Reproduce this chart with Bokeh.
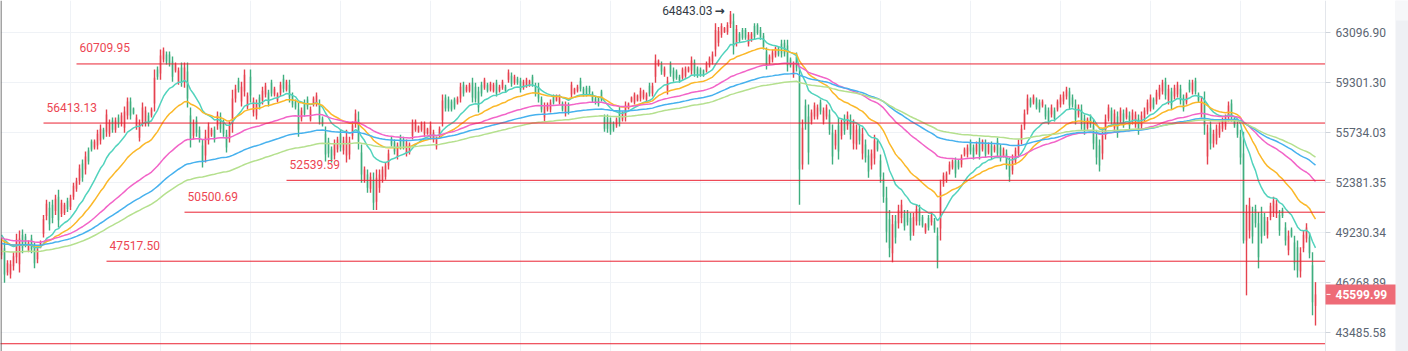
from bokeh.plotting import figure
from bokeh.models import Range1d, FixedTicker, PrintfTickFormatter, Span, ColumnDataSource, LogAxis, Grid
from bokeh.embed import file_html
from bokeh.resources import INLINE
from bokeh.core.properties import value

# ---------------- data ----------------
opens = [
47868, 48282, 46861, 46743, 47217, 47750, 47335, 49111, 48993, 48164,
48874, 48342, 47631, 48401, 49171, 50259, 50773, 50966, 50580, 51481,
50388, 50452, 51224, 50838, 51481, 51995, 52514, 53654, 53251, 54526,
55130, 54727, 54862, 55197, 55950, 55808, 55667, 56592, 55950, 56806,
56377, 56092, 56948, 57947, 57447, 56164, 55398, 56520, 56449, 56948,
56948, 57804, 60289, 59985, 61048, 61427, 61427, 60896, 60213, 59378,
60440, 59301, 60137, 56948, 55533, 56592, 55950, 54862, 54191, 55197,
55600, 55950, 56235, 56877, 56449, 55600, 55332, 56377, 58160, 59454,
57947, 58660, 57590, 59758, 57162, 56948, 58232, 58018, 58445, 58588,
59301, 58445, 58018, 58517, 59606, 58802, 59158, 58374, 57947, 57376,
56734, 57875, 58089, 56663, 57732, 57804, 57732, 56734, 55667, 55130,
54593, 54191, 54593, 55667, 54526, 54191, 54258, 55533, 56377, 56663,
54392, 52580, 52916, 51995, 52580, 51159, 52059, 52580, 52781, 53520,
55332, 55063, 54124, 55398, 55264, 54325, 54392, 55533, 55950, 55808,
55950, 55667, 55667, 55533, 55264, 54794, 55533, 56592, 58232, 58089,
57947, 58089, 57875, 58160, 59158, 58730, 58730, 59301, 59016, 58660,
59158, 58944, 59158, 58802, 58730, 59301, 58730, 58944, 59016, 59530,
59834, 59301, 59606, 59454, 58944, 59087, 59087, 59758, 59087, 59016,
58089, 56806, 57376, 57376, 58303, 58018, 57875, 57804, 57090, 57732,
58445, 58517, 58730, 59454, 58873, 58944, 58944, 58517, 58160, 58160,
58660, 56806, 56734, 56592, 56377, 56235, 57304, 56663, 56806, 57447,
57947, 57875, 58018, 58160, 58232, 58089, 59087, 58517, 59758, 60592,
60668, 59909, 58730, 60668, 60213, 60137, 59758, 59682, 59834, 60137,
60213, 60820, 60365, 60289, 60213, 60213, 60592, 60896, 61807, 62338,
62945, 63174, 63174, 63790, 64021, 62338, 63021, 63328, 63328, 62262,
62566, 63636, 63713, 63328, 62869, 61655, 60820, 61048, 61352, 61883,
62262, 62338, 62110, 61048, 59909, 61276, 59909, 53587, 57661, 56877,
56520, 56877, 56877, 57875, 56520, 56877, 57019, 55734, 54862, 56235,
55533, 56734, 56235, 56663, 54996, 54929, 56021, 54325, 54929, 54191,
53520, 53989, 55130, 53855, 52647, 51416, 50066, 47986, 49938, 49809,
50130, 50388, 50452, 50130, 49295, 49938, 50709, 50195, 49295, 50130,
49874, 49938, 49052, 49488, 52317, 52514, 53117, 53386, 53855, 53788,
53587, 54258, 54258, 55063, 54727, 54459, 55130, 54593, 55063, 54392,
54862, 54526, 55130, 54727, 54191, 54325, 53721, 53184, 53788, 54325,
55197, 56235, 57304, 58089, 57875, 58089, 57875, 57661, 57518, 57304,
57019, 57304, 57376, 57732, 57947, 58303, 58660, 58232, 57732, 57019,
57376, 56734, 56092, 56806, 56235, 55466, 54862, 54325, 55600, 56734,
57304, 56092, 56877, 56520, 57090, 56806, 56948, 56520, 56306, 56734,
56235, 56734, 57233, 57447, 58089, 57947, 58303, 58660, 59378, 58018,
58660, 58303, 58445, 58873, 58232, 57875, 59301, 58660, 59454, 58445,
57090, 58018, 54124, 56092, 54996, 55197, 55600, 56021, 56164, 56806,
57804, 56734, 56306, 55466, 54325, 48760, 49359, 50388, 50709, 49809,
50388, 50195, 49111, 50195, 50452, 50388, 50323, 50645, 49552, 48164,
49423, 48638, 48342, 46921, 48282, 48874, 48933, 47276, 44950]

highs = [
48874, 48756, 47572, 47572, 48046, 49171, 49359, 49423, 49171, 48756,
49111, 48638, 48460, 48756, 50323, 51288, 51159, 51288, 51609, 51931,
51288, 51095, 51416, 51609, 52381, 52714, 53587, 53922, 54459, 54727,
55264, 55264, 55950, 56306, 56092, 57376, 56663, 56806, 56806, 57019,
57162, 57590, 58232, 58232, 57518, 57019, 56663, 57875, 57590, 57162,
57518, 60289, 60516, 61807, 61959, 61655, 61655, 61276, 60820, 60440,
60820, 60820, 60820, 57518, 56663, 56877, 56164, 55264, 55950, 56449,
56092, 56164, 57233, 57162, 56663, 55950, 56520, 58802, 59158, 59682,
59378, 60289, 58588, 60289, 58232, 58089, 58445, 59016, 59301, 58802,
59530, 59016, 58588, 59378, 59909, 59530, 59530, 58588, 58089, 57875,
57518, 58089, 58303, 57590, 58303, 58588, 58089, 56877, 56164, 55398,
54794, 55264, 55466, 55950, 55466, 55950, 55466, 56520, 57376, 57233,
54929, 53453, 53251, 53050, 53050, 53251, 53251, 53453, 53721, 54593,
55466, 55264, 55063, 55600, 55466, 55264, 55063, 56663, 56663, 56235,
56520, 56520, 56092, 56520, 55950, 55466, 56164, 58445, 58445, 58303,
58089, 58232, 58303, 59301, 59378, 59158, 59301, 59682, 59301, 59016,
59378, 59682, 59301, 59378, 59301, 59530, 59158, 59530, 59158, 60289,
60061, 59909, 59758, 59682, 59530, 59682, 59530, 59909, 59301, 59301,
58303, 57875, 57875, 58089, 58445, 58445, 58445, 57947, 57947, 57875,
59378, 58944, 59158, 59682, 59016, 59087, 59087, 58660, 58303, 58303,
58802, 57019, 57019, 56806, 56520, 56806, 57590, 57233, 57947, 57875,
58303, 58588, 58445, 58944, 58802, 58588, 59301, 59301, 61427, 61048,
60896, 60516, 59758, 60896, 60440, 60289, 59909, 60440, 60516, 60516,
61276, 61048, 60516, 60440, 60289, 60896, 61276, 61655, 63867, 63559,
63867, 63559, 63944, 64843.03, 64636, 63713, 63174, 63482, 63482, 63174,
63174, 63867, 63867, 63559, 63097, 61959, 61427, 61807, 62035, 62035,
62566, 62566, 62566, 61200, 60896, 61579, 60516, 56663, 58089, 57732,
57376, 57875, 57732, 58089, 57518, 57732, 57376, 56306, 55950, 56806,
56663, 57019, 57233, 57019, 56663, 56306, 56306, 56092, 55264, 54593,
54593, 55600, 55264, 54258, 53050, 52124, 50645, 50323, 50323, 50966,
51288, 50645, 50645, 50452, 50452, 50966, 50966, 50323, 49809, 50323,
50516, 50130, 49552, 52580, 53050, 53117, 53788, 53922, 54057, 53922,
54258, 54727, 54929, 55264, 54929, 55130, 55398, 55264, 55264, 55063,
55130, 54929, 55398, 54929, 54727, 54593, 54057, 54258, 54727, 55264,
56306, 57376, 58445, 58232, 58445, 58232, 58089, 58089, 57732, 57518,
57732, 57518, 58089, 58445, 58660, 59016, 58944, 58445, 58089, 57732,
57732, 57019, 56806, 57019, 56663, 55950, 55264, 55950, 57019, 57732,
57518, 57376, 57233, 57518, 57376, 57518, 57233, 57376, 57233, 57019,
57233, 57518, 58089, 58445, 58232, 58802, 59158, 59530, 59682, 59158,
58944, 59158, 59378, 59158, 58445, 58588, 59530, 59530, 59682, 58588,
58303, 58660, 56306, 56520, 55950, 56306, 56449, 56806, 57019, 57947,
58089, 56877, 56520, 55950, 55808, 50966, 51416, 50838, 50966, 50516,
50838, 50452, 50195, 51095, 51481, 51288, 50645, 50773, 49874, 49359,
49552, 49052, 48756, 48342, 49359, 49809, 49230, 48046, 46300]

lows = [
47631, 46269, 46684, 46506, 46980, 47394, 46861, 47986, 48342, 48046,
47986, 47098, 47394, 48282, 48933, 50002, 49359, 49809, 50323, 49552,
50195, 50323, 50516, 50645, 51288, 51802, 52252, 52446, 52916, 53587,
54459, 54593, 54593, 54929, 55264, 55466, 55466, 55734, 55734, 56092,
56164, 55734, 56663, 56663, 57019, 55950, 55130, 56164, 56164, 56164,
56806, 57233, 59530, 59530, 60820, 60668, 60516, 59378, 60061, 59158,
59016, 58944, 57518, 54727, 55264, 55466, 55063, 53386, 53721, 54929,
55466, 55063, 55950, 55734, 55466, 54392, 55063, 55734, 57875, 58588,
57590, 58303, 57376, 57875, 56877, 56663, 57376, 57732, 58232, 57590,
58303, 58303, 57875, 58303, 58588, 58660, 57875, 57518, 57376, 55466,
56520, 56877, 57376, 56520, 57590, 57590, 56306, 56164, 53788, 54057,
53721, 53922, 54392, 54459, 54258, 53721, 53922, 55264, 56092, 54593,
52381, 52381, 51738, 51738, 50645, 50645, 51738, 52381, 52580, 53251,
54794, 54258, 53922, 54593, 54593, 54124, 54258, 55264, 55808, 55734,
55808, 55466, 55600, 55264, 55063, 54593, 55398, 56164, 57233, 57233,
57233, 57376, 57732, 57875, 58303, 58588, 58588, 57875, 57875, 57162,
58303, 58802, 58588, 58660, 58588, 58303, 58588, 58802, 58588, 59301,
59016, 59158, 59158, 58588, 58802, 58944, 59016, 59016, 58303, 57875,
57162, 56520, 57233, 57162, 57732, 57947, 57732, 57233, 56877, 57019,
58232, 58445, 58588, 58660, 58303, 58303, 58445, 57875, 57732, 57590,
57947, 55808, 55734, 55600, 55808, 56092, 56164, 56520, 56520, 57376,
57875, 57732, 57947, 57947, 58089, 57947, 58303, 58303, 59301, 60516,
59909, 59758, 58445, 59758, 59378, 59530, 59301, 59530, 59682, 60061,
59909, 59758, 59682, 59758, 59758, 60061, 60440, 60668, 61276, 62035,
62718, 63097, 62945, 63482, 61427, 62035, 62338, 62566, 62566, 62035,
62414, 62566, 62945, 62566, 61807, 60289, 60668, 60820, 61200, 61276,
61200, 61276, 60137, 60440, 59682, 60137, 50966, 53251, 55950, 53587,
56306, 56663, 56663, 57019, 56306, 56663, 55600, 53587, 54593, 53922,
55264, 55600, 55950, 55264, 54593, 54593, 54929, 53922, 53721, 52714,
53251, 53587, 54459, 52381, 51095, 48638, 47750, 47453, 48578, 49488,
49809, 49359, 49680, 48756, 49052, 49680, 49680, 49552, 49171, 49359,
49680, 49230, 47098, 48756, 52124, 52381, 52916, 53251, 52714, 53251,
53386, 54124, 54057, 54258, 53922, 54258, 53922, 54459, 54057, 54258,
53922, 54392, 54057, 53788, 54057, 53251, 52446, 52916, 53587, 54057,
54929, 55950, 57019, 57518, 57732, 57376, 57162, 57518, 56663, 56306,
56806, 56520, 57233, 57518, 57732, 58089, 57376, 57518, 56306, 56806,
55950, 55600, 55950, 56092, 54593, 53587, 53117, 53922, 55264, 56520,
56306, 55808, 55398, 56306, 56092, 56663, 55950, 56306, 56092, 55600,
55950, 56520, 57019, 57233, 57376, 57732, 58089, 58445, 58089, 57732,
57376, 58089, 58232, 57732, 57233, 57732, 58588, 58445, 58445, 57875,
56806, 55600, 53587, 54593, 54727, 54929, 55398, 55808, 55950, 56520,
56520, 56092, 55398, 53587, 48578, 45545, 48874, 48578, 49552, 47098,
48578, 49052, 48874, 50002, 50195, 50130, 49052, 50130, 48460, 47868,
48933, 46980, 46565, 46565, 48046, 48638, 47690, 44431, 43870]

closes = [
48638, 46743, 47394, 47335, 47809, 48815, 48874, 48282, 48519, 48638,
48223, 47394, 48223, 48638, 50066, 51031, 49745, 50130, 51352, 50002,
51095, 50966, 50709, 51416, 52188, 52514, 53318, 52714, 54124, 53788,
54593, 55130, 55667, 56021, 55398, 57019, 56449, 55950, 56592, 56306,
56948, 57233, 57947, 56948, 57090, 56806, 56377, 57518, 57304, 56377,
57376, 59682, 59758, 61352, 61731, 60896, 60744, 59758, 60668, 60213,
59378, 60440, 58160, 55264, 56377, 55734, 55264, 53788, 55466, 56164,
55950, 55264, 56948, 56021, 55667, 54727, 56235, 58160, 58873, 58802,
59016, 59909, 58374, 58374, 57947, 57804, 57590, 58730, 59087, 57804,
58517, 58873, 58445, 59158, 58873, 59378, 58232, 57732, 57518, 55950,
57304, 57090, 57590, 57376, 58160, 58374, 56663, 56306, 54258, 54325,
53922, 54996, 55264, 54727, 55197, 55466, 55130, 56235, 57090, 55130,
52916, 53251, 52059, 52781, 51095, 52714, 52916, 53251, 53520, 54325,
54929, 54459, 54862, 54794, 54794, 55063, 54929, 56377, 56520, 56164,
56377, 56306, 56021, 56235, 55734, 55264, 56021, 58018, 57447, 57447,
57376, 57518, 58160, 59016, 58517, 59016, 59158, 58232, 58160, 57518,
58517, 59530, 58730, 59230, 59158, 58517, 59016, 59378, 58730, 60061,
59230, 59758, 59301, 58802, 59378, 59530, 59454, 59158, 58517, 58160,
57376, 57590, 57732, 57875, 57875, 58303, 58303, 57376, 57732, 57162,
59158, 58873, 59016, 58873, 58445, 58445, 58588, 58018, 57875, 57732,
58089, 56021, 56021, 55808, 55950, 56663, 56449, 57090, 57661, 57804,
58232, 58445, 58374, 58730, 58660, 58445, 58517, 59087, 60972, 60972,
60137, 60365, 59454, 59985, 59606, 59682, 59454, 60289, 60365, 60440,
60972, 59985, 59834, 59909, 59834, 60744, 61124, 61427, 63328, 63251,
63636, 63482, 63713, 64559, 62035, 63405, 62490, 62718, 62718, 62945,
63021, 62793, 63097, 62793, 62035, 60592, 61276, 61579, 61883, 61427,
61503, 61503, 60592, 60592, 60668, 60440, 53251, 56092, 56377, 54392,
57162, 57661, 57518, 57233, 57304, 57518, 55950, 54124, 55667, 54459,
56377, 55879, 56948, 55600, 56235, 55950, 55197, 55667, 54057, 53117,
54325, 55197, 54593, 52781, 51481, 49295, 48282, 49745, 48933, 50645,
50966, 49616, 49874, 49052, 50195, 50709, 49938, 49680, 49745, 49552,
50323, 49423, 47572, 51802, 52848, 52982, 53587, 53788, 52982, 53386,
54057, 54593, 54727, 54459, 54124, 54929, 54191, 55130, 54258, 54929,
54191, 54794, 54325, 53989, 54593, 53520, 52781, 53989, 54526, 54996,
56021, 57090, 58160, 57661, 58303, 57518, 57376, 57947, 56877, 56520,
57518, 56734, 57947, 58232, 58445, 58802, 57661, 57732, 56663, 57518,
56306, 55879, 56663, 56306, 54996, 54057, 53520, 55533, 56663, 57518,
56520, 57090, 55734, 57304, 56377, 57376, 56235, 57162, 57019, 55879,
56948, 57304, 57875, 58232, 57518, 58588, 58944, 59301, 58374, 58873,
57661, 58944, 59158, 58018, 57447, 58445, 58802, 59301, 58660, 58018,
58018, 56235, 55734, 54996, 55667, 56021, 56235, 56592, 56806, 57661,
56806, 56235, 55600, 54057, 48760, 50516, 50902, 48993, 49809, 47750,
48993, 49295, 49938, 50902, 51224, 51031, 49359, 50259, 48756, 49052,
49052, 47394, 46980, 47986, 49111, 49552, 47986, 45155, 45599.99]

tick_values = [43485.58, 46268.89, 49230.34, 52381.35, 55734.03, 59301.30, 63096.90]
level_values = [60709.95, 56413.13, 52539.59, 50500.69, 47517.50, 42888.00]
level_start = [25, 14, 95, 61, 35, -60]
ma_spans = [15, 30, 65, 100, 130]
ma_init = [49170, 48820, 48930, 48580, 48100]
ma_colors = ["#52d3bd", "#fbb829", "#f264c8", "#46b1ee", "#b5e08e"]
last_price = closes[-1]

# ---------------- figure ----------------
UP, DOWN = "#e5424f", "#3fae7f"
n = len(closes)
xs = list(range(n))
colors = [UP if c >= o else DOWN for o, c in zip(opens, closes)]
src = ColumnDataSource(dict(
    x=xs, h=highs, l=lows,
    top=[max(o, c) for o, c in zip(opens, closes)],
    bot=[min(o, c) for o, c in zip(opens, closes)],
    color=colors))

W, H = 1408, 351
x0 = -1 / 3                  # candle i sits at pixel 3*i + 1
x_end = x0 + W / 3
xa = x0 + 1325 / 3           # price axis position
x_strip = x0 + 1395 / 3
y0, y1 = 42477, 65688

p = figure(frame_width=W, frame_height=H,
           x_range=Range1d(x0, x_end), y_range=Range1d(y0, y1),
           y_axis_type="log", y_axis_location=None, x_axis_location=None,
           output_backend="svg", toolbar_location=None, min_border=0)
p.outline_line_color = None
p.background_fill_color = "white"
p.border_fill_color = "white"
p.xgrid.visible = False
p.ygrid.visible = False

p.add_layout(Grid(dimension=0, ticker=FixedTicker(ticks=list(range(23, n, 30))),
                  grid_line_color="#eff2f6"), "center")
p.add_layout(Grid(dimension=1, ticker=FixedTicker(ticks=tick_values),
                  grid_line_color="#eff2f6"), "center")

# price-axis area background and side strip
p.quad(left=[xa], right=[x_end], bottom=[y0], top=[y1], fill_color="white", line_color=None)
p.quad(left=[x_strip], right=[x_end], bottom=[y0], top=[y1], fill_color="#eef0f4", line_color=None)
p.quad(left=[x_strip], right=[x_end], bottom=[64075], top=[y1], fill_color="#f6f7f9", line_color=None)

yax = LogAxis(fixed_location=xa, ticker=FixedTicker(ticks=tick_values),
              formatter=PrintfTickFormatter(format="%.2f"))
yax.axis_line_color = "#e3e6eb"
yax.major_tick_line_color = "#cfd4db"
yax.major_tick_out = 5
yax.major_tick_in = 0
yax.minor_tick_line_color = None
yax.major_label_standoff = 5
yax.major_label_text_font = "Roboto"
yax.major_label_text_font_size = "12px"
yax.major_label_text_color = "#5b6572"
p.add_layout(yax, "right")

# candles
p.segment(x0="x", y0="l", x1="x", y1="h", line_color="color", line_width=1.4, source=src)
p.vbar(x="x", top="top", bottom="bot", width=0.47, fill_color="color", line_color=None, source=src)

# moving averages (EMA of closes)
for span, init, col in zip(ma_spans, ma_init, ma_colors):
    a = 2.0 / (span + 1)
    e = init
    vals = []
    for c in closes:
        e = e + a * (c - e)
        vals.append(e)
    p.line(xs, vals, line_color=col, line_width=1.5)

# horizontal levels
p.segment(x0=level_start, y0=level_values, x1=[xa] * len(level_values), y1=level_values,
          line_color="#ea2232", line_width=1)
vis = [i for i, s in enumerate(level_start) if s >= 0]
p.text(x=[level_start[i] for i in vis], y=[level_values[i] for i in vis],
       text=[f"{level_values[i]:.2f}" for i in vis],
       x_offset=3, y_offset=-16, text_baseline="alphabetic", text_align="left",
       text_font=value("Roboto"), text_font_size="12px", text_color="#ec4652")

# peak annotation
pk = highs.index(max(highs))
p.text(x=[pk], y=[highs[pk]], text=[f"{highs[pk]:.2f}"], x_offset=-18,
       text_align="right", text_baseline="middle",
       text_font=value("Roboto"), text_font_size="12px", text_color="#333b45")
p.text(x=[pk], y=[highs[pk]], text=["\u2192"], x_offset=-6,
       text_align="right", text_baseline="middle",
       text_font=value("DejaVu Sans"), text_font_size="12px", text_font_style="bold",
       text_color="#333b45")

# left border line
p.add_layout(Span(location=x0 + 0.5 / 3, dimension="height", line_color="#4a4a4a", line_width=1))

# last price tag on the axis
p.rect(x=[xa + 35 / 3], y=[last_price], width=70 / 3, height=20, height_units="screen",
       fill_color="#ee6b77", line_color=None, level="overlay")
p.segment(x0=[xa + 1 / 3], y0=[last_price], x1=[xa + 5 / 3], y1=[last_price],
          line_color="white", line_width=1, level="overlay")
p.text(x=[xa + 10 / 3], y=[last_price], text=[f"{last_price:.2f}"],
       text_baseline="middle", text_align="left", text_color="white",
       text_font=value("Roboto"), text_font_size="12px", text_font_style="bold",
       level="overlay")

open("out.html", "w").write(file_html(p, INLINE))
